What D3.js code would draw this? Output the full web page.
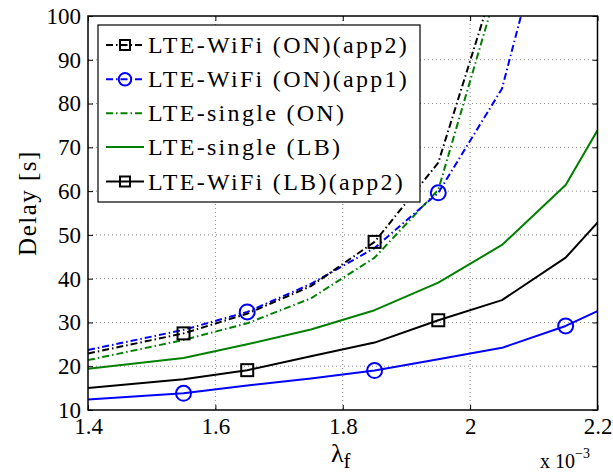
<!DOCTYPE html>
<html>
<head>
<meta charset="utf-8">
<script src="https://cdn.jsdelivr.net/npm/d3@7"></script>
<style>
  html, body { margin: 0; padding: 0; background: #fff; }
  svg { display: block; }
  svg text { font-family: "Liberation Serif"; }
</style>
</head>
<body>
<svg id="chart" width="613" height="472"></svg>
<script>
// ---- data (lambda_f in units of 1e-3, delay in s) ----
const xs = [1.4, 1.55, 1.65, 1.75, 1.85, 1.95, 2.05, 2.15, 2.2];
const lteWifiOnApp2 = [22.9, 27.5, 32.0, 38.3, 48.4, 66.5, 113, null, null];
const lteWifiOnApp1 = [23.7, 28.3, 32.4, 38.8, 47.0, 59.6, 83.4, 139, null];
const lteSingleOn   = [21.4, 26.0, 29.8, 35.5, 44.8, 60.3, 110, null, null];
const lteSingleLb   = [19.4, 21.9, 25.0, 28.4, 32.8, 39.1, 47.7, 61.4, 73.9];
const lteWifiLbApp2 = [15.0, 17.0, 19.1, 22.3, 25.4, 30.5, 35.1, 44.8, 52.8];
const lteWifiLbApp1 = [12.4, 13.8, 15.6, 17.2, 19.0, 21.6, 24.2, 29.2, 32.6];
const xTicks = [1.4, 1.6, 1.8, 2.0, 2.2];
const xTickLabels = ["1.4", "1.6", "1.8", "2", "2.2"];
const yTicks = [10, 20, 30, 40, 50, 60, 70, 80, 90, 100];
const legendLabels = ["LTE-WiFi (ON)(app2)", "LTE-WiFi (ON)(app1)", "LTE-single (ON)", "LTE-single (LB)", "LTE-WiFi (LB)(app2)"];

const FONT = '"Liberation Serif"';

const series = [
  { name: legendLabels[0], values: lteWifiOnApp2, color: "#000000", dash: "7,3,1.5,3", marker: "square", markIdx: [1, 4], legend: true },
  { name: legendLabels[1], values: lteWifiOnApp1, color: "#0000ff", dash: "7,3,1.5,3", marker: "circle", markIdx: [2, 5], legend: true },
  { name: legendLabels[2], values: lteSingleOn,   color: "#008000", dash: "7,3,1.5,3", marker: null, markIdx: [], legend: true },
  { name: legendLabels[3], values: lteSingleLb,   color: "#008000", dash: null, marker: null, markIdx: [], legend: true },
  { name: legendLabels[4], values: lteWifiLbApp2, color: "#000000", dash: null, marker: "square", markIdx: [2, 5], legend: true },
  { name: "LTE-WiFi (LB)(app1)", values: lteWifiLbApp1, color: "#0000ff", dash: null, marker: "circle", markIdx: [1, 4, 7], legend: false }
];

const svg = d3.select("#chart");
const L = 88, R = 597.5, T = 16, B = 410;
const x = d3.scaleLinear().domain([1.4, 2.2]).range([L, R]);
const y = d3.scaleLinear().domain([10, 100]).range([B, T]);

// grid
const grid = svg.append("g");
grid.selectAll("line.gx").data(xTicks.slice(1, -1)).join("line")
  .attr("x1", d => x(d)).attr("x2", d => x(d)).attr("y1", T).attr("y2", B)
  .attr("stroke", "#8a8a8a").attr("stroke-width", 1).attr("stroke-dasharray", "1,3");
grid.selectAll("line.gy").data(yTicks.slice(1, -1)).join("line")
  .attr("x1", L).attr("x2", R).attr("y1", d => y(d)).attr("y2", d => y(d))
  .attr("stroke", "#8a8a8a").attr("stroke-width", 1).attr("stroke-dasharray", "1,3");

// clip
svg.append("clipPath").attr("id", "clip").append("rect")
  .attr("x", L).attr("y", T).attr("width", R - L).attr("height", B - T);

const plot = svg.append("g").attr("clip-path", "url(#clip)");
const line = d3.line().defined(d => d[1] != null).x(d => x(d[0])).y(d => y(d[1]));

function drawMarker(g, type, cx, cy, color, size) {
  if (type === "square") {
    g.append("rect").attr("x", cx - size).attr("y", cy - size).attr("width", 2 * size).attr("height", 2 * size)
      .attr("fill", "none").attr("stroke", color).attr("stroke-width", 2);
  } else if (type === "circle") {
    g.append("circle").attr("cx", cx).attr("cy", cy).attr("r", size * 1.25)
      .attr("fill", "none").attr("stroke", color).attr("stroke-width", 2);
  }
}

const drawOrder = [5, 4, 3, 2, 1, 0];
drawOrder.forEach(i => {
  const s = series[i];
  const pts = xs.map((xv, k) => [xv, s.values[k]]);
  plot.append("path").datum(pts)
    .attr("d", line)
    .attr("fill", "none")
    .attr("stroke", s.color)
    .attr("stroke-width", 2)
    .attr("stroke-linejoin", "round")
    .attr("stroke-dasharray", s.dash);
  s.markIdx.forEach(k => {
    if (s.values[k] != null) drawMarker(plot, s.marker, x(xs[k]), y(s.values[k]), s.color, 6);
  });
});

// axes box
svg.append("rect").attr("x", L).attr("y", T).attr("width", R - L).attr("height", B - T)
  .attr("fill", "none").attr("stroke", "#000").attr("stroke-width", 1.5);

// ticks (inward, all four sides)
const xAxisB = d3.axisBottom(x).tickValues(xTicks).tickSizeInner(-5).tickSizeOuter(0)
  .tickFormat((d, i) => xTickLabels[i]).tickPadding(8);
const gxb = svg.append("g").attr("transform", `translate(0,${B})`).call(xAxisB);
gxb.select(".domain").remove();
const xAxisT = d3.axisTop(x).tickValues(xTicks).tickSizeInner(-5).tickSizeOuter(0).tickFormat("");
const gxt = svg.append("g").attr("transform", `translate(0,${T})`).call(xAxisT);
gxt.select(".domain").remove();

const yAxisL = d3.axisLeft(y).tickValues(yTicks).tickSizeInner(-5).tickSizeOuter(0)
  .tickFormat(d3.format("d")).tickPadding(7);
const gyl = svg.append("g").attr("transform", `translate(${L},0)`).call(yAxisL);
gyl.select(".domain").remove();
const yAxisR = d3.axisRight(y).tickValues(yTicks).tickSizeInner(-5).tickSizeOuter(0).tickFormat("");
const gyr = svg.append("g").attr("transform", `translate(${R},0)`).call(yAxisR);
gyr.select(".domain").remove();
svg.selectAll("g").attr("font-family", null).attr("font-size", null);
svg.selectAll(".tick line").attr("stroke", "#000").attr("stroke-width", 1);
svg.selectAll(".tick text").attr("font-family", "Liberation Serif").style("font-family", FONT)
  .style("font-size", "23px").attr("fill", "#000");
gyl.selectAll(".tick text").attr("dy", "0.32em");

// axis labels
svg.append("text").attr("transform", `translate(36,203) rotate(-90)`)
  .attr("text-anchor", "middle").attr("font-family", "Liberation Serif").style("font-family", FONT).style("font-size", "25px")
  .attr("letter-spacing", 1.5).text("Delay [s]");
const xl = svg.append("text").attr("x", 331).attr("y", 462).attr("font-family", "Liberation Serif").style("font-family", FONT).style("font-size", "26px");
xl.append("tspan").text("λ");
xl.append("tspan").style("font-size", "21px").attr("dy", 6).text("f");
const sc = svg.append("text").attr("x", 540).attr("y", 468).attr("font-family", "Liberation Serif").style("font-family", FONT).style("font-size", "20px");
sc.append("tspan").text("x 10");
sc.append("tspan").style("font-size", "14px").attr("dy", -10).text("−3");

// legend
const lg = svg.append("g");
const lgX = 98, lgY = 25, lgW = 322, lgH = 177;
lg.append("rect").attr("x", lgX).attr("y", lgY).attr("width", lgW).attr("height", lgH)
  .attr("fill", "#fff").attr("stroke", "#000").attr("stroke-width", 1.2);
const rowY = [45, 79.3, 113.3, 147, 181.5];
series.filter(s => s.legend).forEach((s, i) => {
  const ry = rowY[i];
  lg.append("line").attr("x1", 106).attr("x2", 144).attr("y1", ry).attr("y2", ry)
    .attr("stroke", s.color).attr("stroke-width", 2).attr("stroke-dasharray", s.dash);
  if (s.marker) drawMarker(lg, s.marker, 125, ry, s.color, 5);
  lg.append("text").attr("x", 148).attr("y", ry + 8).attr("font-family", "Liberation Serif")
    .style("font-family", FONT).style("font-size", "24px")
    .attr("letter-spacing", 2.3).text(s.name);
});
</script>
</body>
</html>
